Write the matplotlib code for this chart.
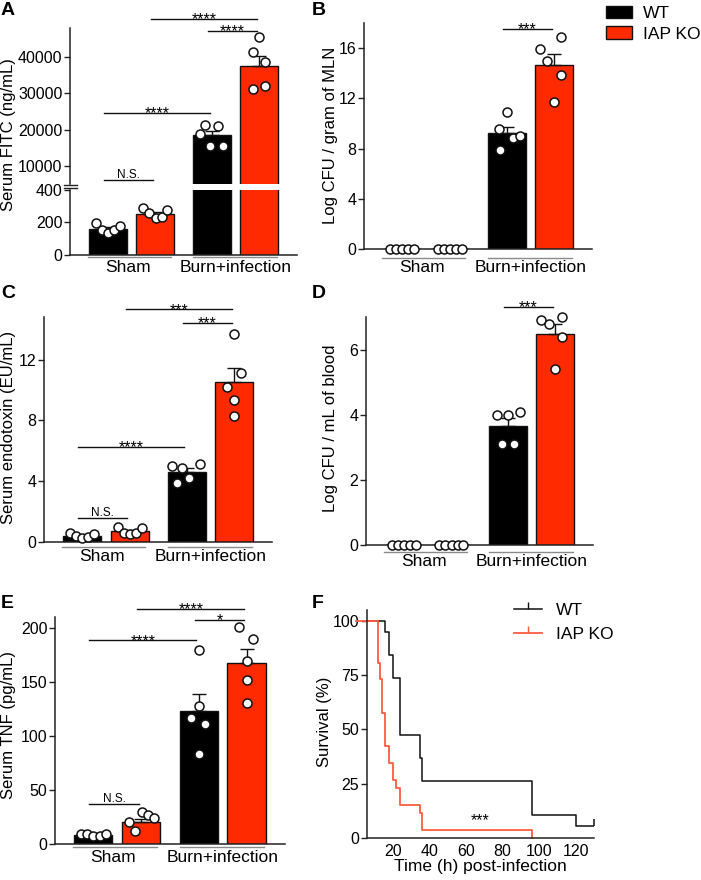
import matplotlib
matplotlib.use('Agg')
import matplotlib.pyplot as plt
import matplotlib.transforms as mtransforms
from matplotlib.patches import Patch
from matplotlib.lines import Line2D

plt.rcParams['font.family'] = ['Liberation Sans', 'DejaVu Sans']

# ---------------- data ----------------
groups = ['Sham', 'Burn+infection']
genotypes = ['WT', 'IAP KO']
# bar order: Sham WT, Sham IAP KO, Burn WT, Burn IAP KO

fitc_mean = [158, 250, 18500, 37600]
fitc_sem = [12, 15, 1200, 2800]
fitc_pts = [[195, 154, 133, 154, 178],
            [287, 256, 226, 236, 277],
            [18800, 21300, 21100, 15600, 15600],
            [45400, 41400, 38600, 31300, 32000]]

mln_mean = [0, 0, 9.23, 14.64]
mln_sem = [0, 0, 0.47, 0.93]
mln_pts = [[0, 0, 0, 0, 0],
           [0, 0, 0, 0, 0],
           [10.9, 9.58, 8.87, 8.97, 7.86],
           [16.9, 15.96, 14.99, 13.88, 11.69]]

endo_mean = [0.37, 0.72, 4.6, 10.5]
endo_sem = [0.08, 0.1, 0.26, 0.94]
endo_pts = [[0.6, 0.4, 0.25, 0.35, 0.5],
            [0.98, 0.59, 0.55, 0.59, 0.92],
            [5.0, 4.9, 5.15, 3.9, 4.2],
            [13.7, 11.1, 10.2, 9.34, 8.29]]

blood_mean = [0, 0, 3.66, 6.49]
blood_sem = [0, 0, 0.23, 0.31]
blood_pts = [[0, 0, 0, 0, 0],
             [0, 0, 0, 0, 0],
             [3.99, 3.99, 4.09, 3.10, 3.10],
             [6.9, 6.8, 7.0, 6.39, 5.39]]

tnf_mean = [8, 20, 123, 167.4]
tnf_sem = [1, 3, 16, 13.2]
tnf_pts = [[9.5, 9.0, 7.5, 7.0, 9.5],
           [20.3, 11.7, 29.2, 27.0, 24.0],
           [179.7, 127.5, 117.0, 110.9, 82.9],
           [200.6, 189.2, 169.3, 152.0, 130.6]]

# Kaplan-Meier survival (time h, survival %)
wt_time = [0, 16, 18, 20, 24, 35, 36, 96, 120, 130]
wt_surv = [100, 94.7, 84.2, 73.7, 47.4, 36.8, 26.3, 10.5, 5.3, 5.3]
ko_time = [0, 12, 13, 14, 16, 18, 20, 22, 24, 35, 36, 96]
ko_surv = [100, 80.8, 73.1, 57.7, 42.3, 34.6, 26.9, 23.1, 15.4, 11.5, 3.8, 0]

# ---------------- layout ----------------
W, H = 701, 880
fig = plt.figure(figsize=(W / 100, H / 100), dpi=100)

BAR_COLORS = ['#000000', '#FF2A00', '#000000', '#FF2A00']
KM_RED = '#FF5A40'
XPOS = [0, 1, 2.2, 3.2]
BW = 0.8
TICK_FS = 11.5
JIT = [[-0.25, -0.13, 0.0, 0.13, 0.26],
       [-0.25, -0.12, 0.01, 0.14, 0.26]]
JIT_A = JIT + [[-0.26, -0.14, 0.13, -0.03, 0.24], [0.0, -0.12, 0.13, -0.14, 0.13]]
JIT_B = JIT + [[0.0, -0.15, 0.14, 0.29, -0.14], [0.14, -0.29, -0.14, 0.14, 0.0]]
JIT_C = JIT + [[-0.3, -0.1, 0.28, -0.2, 0.05], [0.0, 0.15, -0.15, 0.0, 0.0]]
JIT_D = JIT + [[-0.24, 0.0, 0.25, -0.13, 0.13], [-0.29, -0.13, 0.15, 0.15, 0.0]]
JIT_E = JIT + [[0.0, 0.0, -0.16, 0.14, 0.0], [-0.15, 0.14, 0.0, 0.0, 0.0]]


def pax(l, t, r, b):
    return fig.add_axes([l / W, 1 - b / H, (r - l) / W, (b - t) / H])


def style(ax, bottom=True, left=True):
    for s in ['top', 'right']:
        ax.spines[s].set_visible(False)
    ax.spines['bottom'].set_visible(bottom)
    ax.spines['left'].set_visible(left)
    for s in ['bottom', 'left']:
        ax.spines[s].set_linewidth(1.1)
        ax.spines[s].set_color('#222222')
    ax.tick_params(axis='y', direction='out', length=4, width=1.0, labelsize=TICK_FS, pad=1.5, color='#222222')
    ax.tick_params(axis='x', length=0, labelsize=TICK_FS)


def draw_bars(ax, means, sems, pts, jit, ylim, yticks, show_err=None):
    ax.bar(XPOS, means, width=BW, color=BAR_COLORS, edgecolor='#111111', linewidth=1.0, zorder=2)
    for i in range(4):
        if show_err is None or i in show_err:
            if sems[i] > 0:
                ax.errorbar([XPOS[i]], [means[i]], yerr=[[0], [sems[i]]], fmt='none',
                            ecolor='#111111', elinewidth=1.0, capsize=5, capthick=1.0, zorder=3)
        xs = [XPOS[i] + o for o in jit[i]]
        ax.scatter(xs, pts[i], s=42, facecolor='white', edgecolor='#111111', linewidths=1.1, zorder=4, clip_on=False)
    ax.set_xlim(-0.8, 4.0)
    ax.set_ylim(*ylim)
    ax.set_yticks(yticks)
    ax.set_xticks([])


def group_labels(ax, line_off, label_off):
    tl = mtransforms.offset_copy(ax.get_xaxis_transform(), fig=fig, x=0, y=-line_off, units='dots')
    tt = mtransforms.offset_copy(ax.get_xaxis_transform(), fig=fig, x=0, y=-label_off, units='dots')
    for (a, b), c, g in zip([(-0.42, 1.33), (1.8, 3.57)], [0.42, 2.7], groups):
        ax.plot([a, b], [0, 0], transform=tl, color='#8a8a8a', lw=1.0, clip_on=False)
        ax.text(c, 0, g, transform=tt, ha='center', va='center', fontsize=12.5)


def sig(ax, i, j, y, label):
    x1, x2 = XPOS[i] - 0.08, XPOS[j] - 0.05
    ax.plot([x1, x2], [y, y], color='#111111', lw=1.0, clip_on=False)
    if label == 'N.S.':
        ax.annotate(label, ((x1 + x2) / 2, y), xytext=(0, 1.5), textcoords='offset points',
                    ha='center', va='baseline', fontsize=8.5, annotation_clip=False)
    else:
        ax.annotate(label, ((x1 + x2) / 2, y), xytext=(0, -3.8), textcoords='offset points',
                    ha='center', va='baseline', fontsize=11.5, annotation_clip=False)


def ylab(x, y, text):
    fig.text(x / W, 1 - y / H, text, rotation=90, ha='center', va='center', fontsize=12)


def letter(x, y, text):
    fig.text(x / W, 1 - y / H, text, ha='left', va='top', fontsize=14, fontweight='bold')


# ---- Panel A (broken axis) ----
axA_up = pax(70, 28, 297, 184)
axA_lo = pax(70, 190, 297, 255)
style(axA_up, bottom=False)
style(axA_lo)
draw_bars(axA_up, fitc_mean, fitc_sem, [p if i >= 2 else [] for i, p in enumerate(fitc_pts)],
          [j if i >= 2 else [] for i, j in enumerate(JIT_A)], (5000, 48000),
          [10000, 20000, 30000, 40000], show_err=[2, 3])
draw_bars(axA_lo, fitc_mean, fitc_sem, [p if i < 2 else [] for i, p in enumerate(fitc_pts)],
          [j if i < 2 else [] for i, j in enumerate(JIT_A)], (0, 400), [0, 200, 400], show_err=[0, 1])
# break marks on the y axis
for yb in (184.5, 188.5):
    fig.add_artist(Line2D([64 / W, 77 / W], [1 - yb / H, 1 - yb / H], color='#222222', lw=1.0))
group_labels(axA_lo, 2, 13)
sig(axA_up, 1, 3, 50480, '****')
sig(axA_up, 2, 3, 47170, '****')
sig(axA_up, 0, 2, 24570, '****')
sig(axA_up, 0, 1, 6100, 'N.S.')
ylab(9, 135, 'Serum FITC (ng/mL)')
letter(1, 2, 'A')

# ---- Panel B ----
axB = pax(364, 23, 592, 249)
style(axB)
draw_bars(axB, mln_mean, mln_sem, mln_pts, JIT_B, (0, 18), [0, 4, 8, 12, 16])
group_labels(axB, 9, 19)
sig(axB, 2, 3, 17.5, '***')
ylab(330, 135, 'Log CFU / gram of MLN')
letter(312, 2, 'B')

# legend top right
fig.legend(handles=[Patch(facecolor=BAR_COLORS[0], edgecolor='#111111', lw=1.0, label=genotypes[0]),
                    Patch(facecolor=BAR_COLORS[1], edgecolor='#111111', lw=1.0, label=genotypes[1])],
           loc='upper left', bbox_to_anchor=(606 / W, 1 - 6 / H), frameon=False, fontsize=12.5,
           handlelength=1.5, handleheight=0.7, handletextpad=0.65, labelspacing=0.3,
           borderpad=0, borderaxespad=0)

# ---- Panel C ----
axC = pax(44, 317, 272, 542)
style(axC)
draw_bars(axC, endo_mean, endo_sem, endo_pts, JIT_C, (0, 14.8), [0, 4, 8, 12])
group_labels(axC, 5, 14)
sig(axC, 1, 3, 15.3, '***')
sig(axC, 2, 3, 14.4, '***')
sig(axC, 0, 2, 6.26, '****')
sig(axC, 0, 1, 1.6, 'N.S.')
ylab(9, 427, 'Serum endotoxin (EU/mL)')
letter(1, 285, 'C')

# ---- Panel D ----
axD = pax(366, 317, 593, 545)
style(axD)
draw_bars(axD, blood_mean, blood_sem, blood_pts, JIT_D, (0, 7.0), [0, 2, 4, 6])
group_labels(axD, 7, 17)
sig(axD, 2, 3, 7.3, '***')
ylab(330, 428, 'Log CFU / mL of blood')
letter(312, 285, 'D')

# ---- Panel E ----
axE = pax(55, 617, 285, 844)
style(axE)
draw_bars(axE, tnf_mean, tnf_sem, tnf_pts, JIT_E, (0, 210), [0, 50, 100, 150, 200])
group_labels(axE, 3, 13)
sig(axE, 1, 3, 217.8, '****')
sig(axE, 2, 3, 207.6, '*')
sig(axE, 0, 2, 188.3, '****')
sig(axE, 0, 1, 37.1, 'N.S.')
ylab(9, 725, 'Serum TNF (pg/mL)')
letter(1, 595, 'E')

# ---- Panel F ----
axF = pax(367, 610, 594, 838)
style(axF)
axF.step(wt_time, wt_surv, where='post', color='#111111', lw=1.1, clip_on=True)
axF.step(ko_time, ko_surv, where='post', color=KM_RED, lw=1.3, clip_on=False)
axF.plot([wt_time[-1]], [wt_surv[-1]], marker=2, markersize=5, color='#111111', mew=1.1, clip_on=False)
axF.set_xlim(6, 130)
axF.set_ylim(0, 105)
axF.set_xticks([20, 40, 60, 80, 100, 120])
axF.set_yticks([0, 25, 50, 75, 100])
axF.tick_params(axis='x', length=0, pad=4)
axF.set_xlabel('Time (h) post-infection', fontsize=12.5, labelpad=0)
axF.text(68, 8.2, '***', ha='center', va='center', fontsize=11.5)
axF.legend(handles=[Line2D([], [], color='#111111', lw=1.1, marker=2, markersize=5, label=genotypes[0]),
                    Line2D([], [], color=KM_RED, lw=1.3, marker=2, markersize=5, label=genotypes[1])],
           loc='upper left', bbox_to_anchor=(514 / W, 1 - 603 / H), bbox_transform=fig.transFigure,
           frameon=False, fontsize=12.5, handlelength=1.6, handletextpad=0.8, labelspacing=0.5,
           borderpad=0, borderaxespad=0, numpoints=1)
ylab(325, 722, 'Survival (%)')
letter(312, 595, 'F')

fig.savefig('out.png', dpi=100)
